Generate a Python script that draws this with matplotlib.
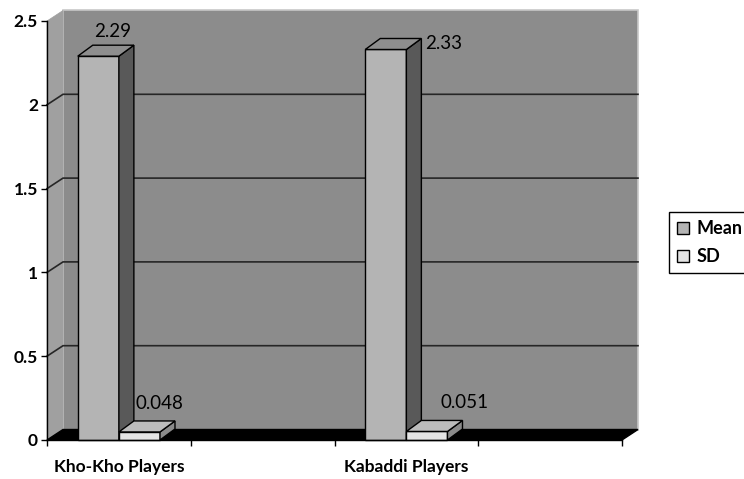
import matplotlib
matplotlib.use("Agg")
import matplotlib.pyplot as plt
from matplotlib.patches import Polygon, Rectangle

plt.rcParams['font.family'] = ['Lato', 'DejaVu Sans']

groups = ["Kho-Kho Players", "Kabaddi Players"]
mean_vals = [2.29, 2.33]
sd_vals = [0.048, 0.051]
mean_labels = ["2.29", "2.33"]
sd_labels = ["0.048", "0.051"]
y_ticks = [0, 0.5, 1, 1.5, 2, 2.5]
y_tick_labels = ["0", "0.5", "1", "1.5", "2", "2.5"]
x_ticks = [0, 0.5, 1, 1.5, 2]

W, H = 744, 479
fig = plt.figure(figsize=(W / 100, H / 100), dpi=100)
ax = fig.add_axes([47 / W, 1 - 440 / H, 575 / W, (440 - 21) / H])
ax.set_xlim(0, 2)
ax.set_ylim(0, 2.5)

# pixel size of one data unit, used for the fake 3d depth
px_x = 575 / 2.0
px_y = (440 - 21) / 2.5
wdx, wdy = 16 / px_x, 10.5 / px_y   # wall depth
bdx, bdy = 15 / px_x, 11 / px_y     # bar depth
bar_w = 0.143


def poly(pts, fc, ec="black", lw=1.0, z=1):
    p = Polygon(pts, closed=True, facecolor=fc, edgecolor=ec, linewidth=lw,
                clip_on=False, zorder=z)
    ax.add_patch(p)


# walls and floor
poly([(wdx, wdy), (2 + wdx, wdy), (2 + wdx, 2.5 + wdy), (wdx, 2.5 + wdy)],
     "#8c8c8c", ec="#c8c8c8", lw=1.2, z=0.5)
poly([(0, 0), (0, 2.5), (wdx, 2.5 + wdy), (wdx, wdy)], "#a0a0a0",
     ec="#a0a0a0", lw=0.5, z=0.6)
for t in y_ticks[1:-1]:
    ax.plot([0, wdx, 2 + wdx], [t, t + wdy, t + wdy], color="#262626",
            lw=1.2, zorder=0.8, clip_on=False)
poly([(0, 0), (2, 0), (2 + wdx, wdy), (wdx, wdy)], "black", z=0.9)


def box(x0, h, front, side, top):
    poly([(x0, 0), (x0 + bar_w, 0), (x0 + bar_w, h), (x0, h)], front, z=2)
    poly([(x0 + bar_w, 0), (x0 + bar_w + bdx, bdy),
          (x0 + bar_w + bdx, h + bdy), (x0 + bar_w, h)], side, z=2)
    poly([(x0, h), (x0 + bar_w, h), (x0 + bar_w + bdx, h + bdy),
          (x0 + bdx, h + bdy)], top, z=2)


mean_off = [(14, 25), (58, 6)]
sd_off = [(20, 28), (38, 29)]
for i in range(len(groups)):
    c = i + 0.25
    box(c - bar_w, mean_vals[i], "#b4b4b4", "#595959", "#8e8e8e")
    box(c, sd_vals[i], "#e4e4e4", "#8a8a8a", "#bcbcbc")
    ax.annotate(mean_labels[i], (c - bar_w / 2, mean_vals[i]),
                xytext=mean_off[i], textcoords="offset pixels",
                ha="center", va="center", fontsize=13.5, color="black")
    ax.annotate(sd_labels[i], (c + bar_w / 2, sd_vals[i]),
                xytext=sd_off[i], textcoords="offset pixels",
                ha="center", va="center", fontsize=13.5, color="black")
    ax.annotate(groups[i], (c, 0), xytext=(0, -27), textcoords="offset pixels",
                ha="center", va="center", fontsize=12.5, fontweight="bold")

for s in ["top", "right"]:
    ax.spines[s].set_visible(False)
ax.spines["left"].set_linewidth(1.0)
ax.spines["bottom"].set_linewidth(1.0)
ax.set_facecolor("none")
ax.set_yticks(y_ticks)
ax.set_yticklabels(y_tick_labels, fontsize=12.5, fontweight="bold")
ax.set_xticks(x_ticks)
ax.set_xticklabels([])
ax.tick_params(axis="both", direction="out", length=4.5, width=1, pad=2)

handles = [Rectangle((0, 0), 1, 1, facecolor="#b4b4b4", edgecolor="black"),
           Rectangle((0, 0), 1, 1, facecolor="#e4e4e4", edgecolor="black")]
leg = fig.legend(handles, ["Mean", "SD"], loc="upper left",
                 bbox_to_anchor=(669 / W, 1 - 212 / H), borderaxespad=0,
                 fancybox=False, framealpha=1, edgecolor="black",
                 handlelength=0.65, handleheight=0.65, handletextpad=0.45,
                 borderpad=0.45, labelspacing=0.6,
                 prop={"size": 13, "weight": "bold"})
leg.get_frame().set_linewidth(1.0)

fig.savefig("out.png", dpi=100)
